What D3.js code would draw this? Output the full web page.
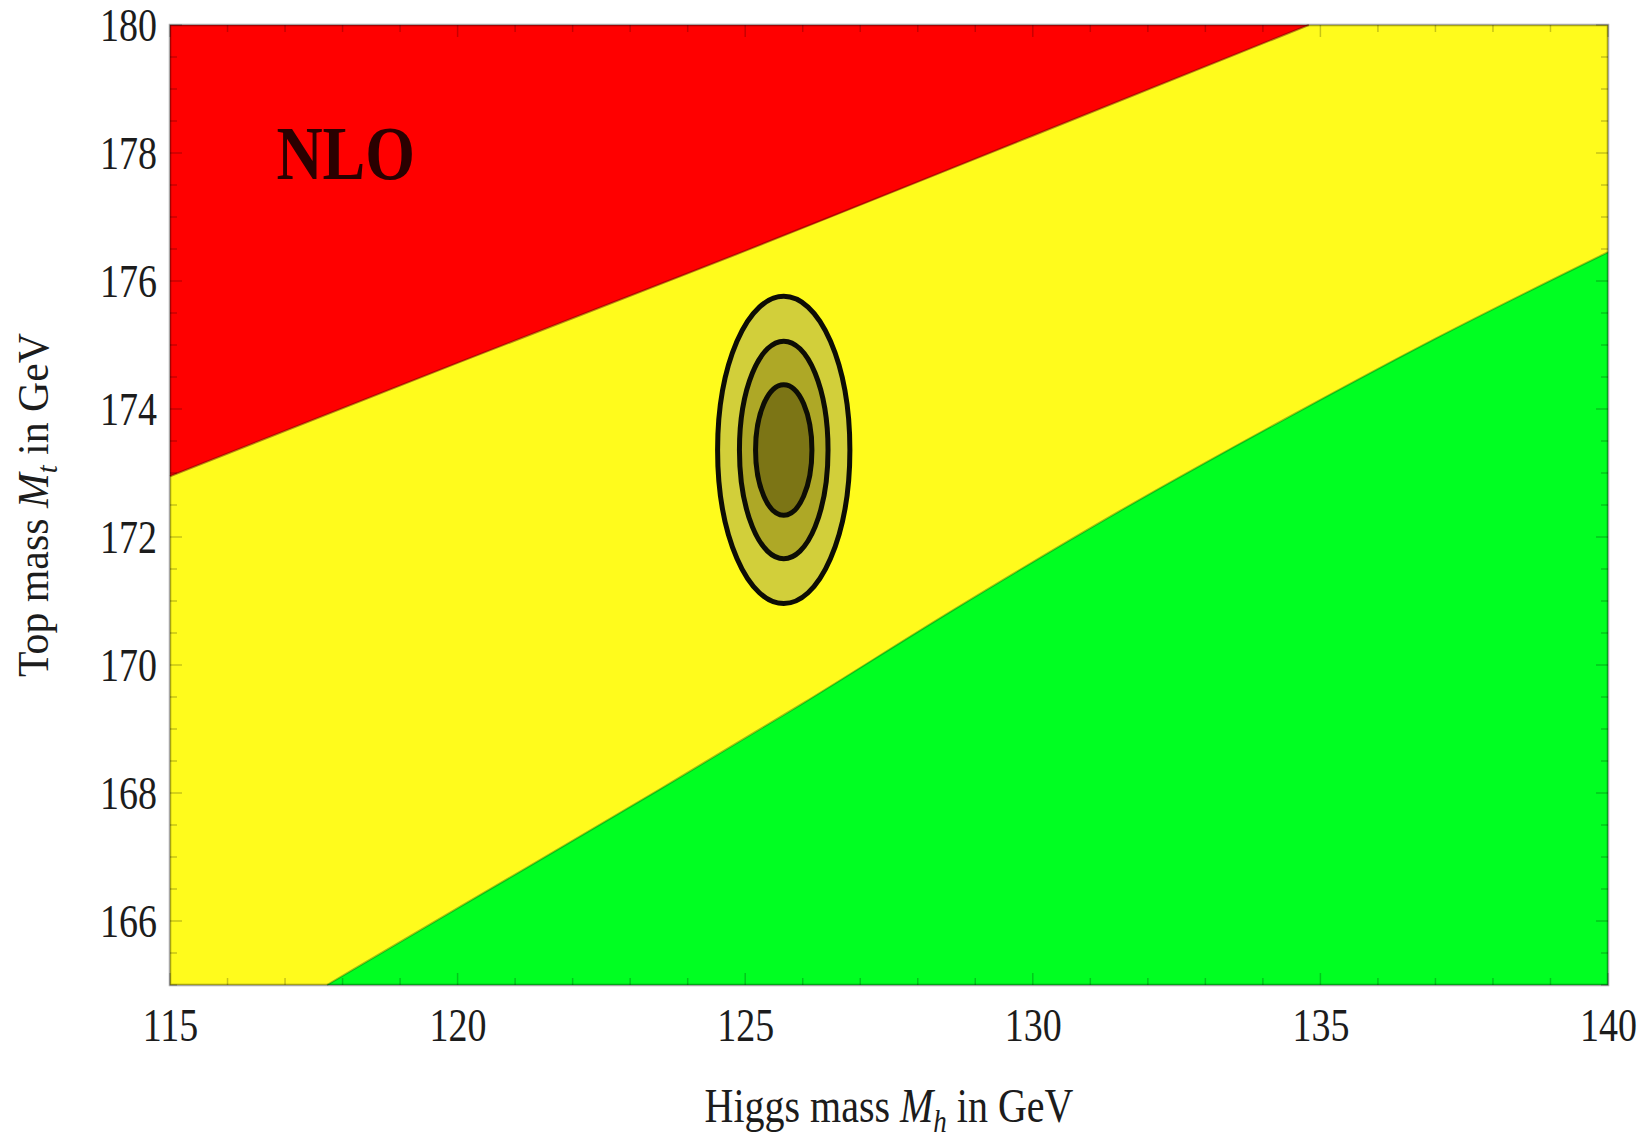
<!DOCTYPE html>
<html>
<head>
<meta charset="utf-8" />
<title>NLO stability plot</title>
<script src="https://cdn.jsdelivr.net/npm/d3@7"></script>
<style type="text/css">
    body { margin: 0; background: #fff; }
    #chart text { font-family: "Liberation Serif", "Times New Roman", serif; fill: #1c1c1c; }
</style>
</head>
<body>
<div id="chart"></div>
<script>
    // Axis ticks
    var xTicks = [115, 120, 125, 130, 135, 140]
    var yTicks = [166, 168, 170, 172, 174, 176, 178, 180]

    // Red / yellow boundary (Higgs mass, top mass)
    var redMh = [115, 120, 125, 130, 134.8]
    var redMt = [172.95, 174.72, 176.47, 178.27, 180]

    // Yellow / green boundary
    var greenMh = [117.73, 120, 123.5, 126, 128.6, 131.5, 134.5, 137, 140]
    var greenMt = [165, 166.2, 168.05, 169.4, 170.85, 172.4, 173.9, 175.1, 176.45]

    // Measured point and its contours (semi-axes in GeV, outer to inner)
    var centreMh = 125.67, centreMt = 173.36
    var contourA = [1.15, 0.77, 0.49]
    var contourB = [2.40, 1.70, 1.02]
    var contourFill = ["#d2cf3a", "#aea826", "#7c7515"]

    var W = 1647, H = 1137
    var margin = { top: 25, right: 39, bottom: 152, left: 170 },
        width = W - margin.left - margin.right,
        height = H - margin.top - margin.bottom

    var x = d3.scaleLinear().domain([115, 140]).range([0, width])
    var y = d3.scaleLinear().domain([165, 180]).range([height, 0])

    var svg = d3.select("#chart").append("svg")
        .attr("width", W).attr("height", H)

    var chart = svg.append("g")
        .attr("transform", "translate(" + margin.left + "," + margin.top + ")")

    // Yellow background
    chart.append("rect")
        .attr("width", width).attr("height", height)
        .attr("fill", "#fffb1c")

    var line = d3.line()
        .x(function(d) { return x(d[0]) })
        .y(function(d) { return y(d[1]) })
        .curve(d3.curveMonotoneX)

    var redPts = redMh.map(function(v, i) { return [v, redMt[i]] })
    var greenPts = greenMh.map(function(v, i) { return [v, greenMt[i]] })

    // closed regions: boundary curve then the plot corner
    chart.append("path")
        .attr("d", line(redPts) + "L" + x(115) + "," + y(180) + "Z")
        .attr("fill", "#ff0000")
    chart.append("path")
        .attr("d", line(greenPts) + "L" + x(140) + "," + y(165) + "Z")
        .attr("fill", "#00ff22")

    // Soft boundary edges
    chart.append("path").attr("d", line(redPts))
        .attr("fill", "none").attr("stroke", "rgba(90,0,0,0.45)").attr("stroke-width", 2)
    chart.append("path").attr("d", line(greenPts))
        .attr("fill", "none").attr("stroke", "rgba(0,80,0,0.35)").attr("stroke-width", 2)

    // Contours
    contourA.forEach(function(a, i) {
        chart.append("ellipse")
            .attr("cx", x(centreMh)).attr("cy", y(centreMt))
            .attr("rx", x(centreMh + a) - x(centreMh))
            .attr("ry", y(centreMt) - y(centreMt + contourB[i]))
            .attr("fill", contourFill[i])
            .attr("stroke", "#0d0d05").attr("stroke-width", 5)
    })

    // Frame ticks (inside, on all four sides)
    var tickColor = "rgba(0,0,0,0.22)"
    var minorX = d3.range(115, 140.01, 1), minorY = d3.range(165, 180.01, 0.5)
    function frameTicks(vals, major, horizontal) {
        vals.forEach(function(v) {
            var isMajor = major.indexOf(v) >= 0
            var len = isMajor ? 12 : 7
            if (horizontal) {
                chart.append("line").attr("x1", x(v)).attr("x2", x(v)).attr("y1", height).attr("y2", height - len)
                    .attr("stroke", tickColor).attr("stroke-width", 1.5)
                chart.append("line").attr("x1", x(v)).attr("x2", x(v)).attr("y1", 0).attr("y2", len)
                    .attr("stroke", tickColor).attr("stroke-width", 1.5)
            } else {
                chart.append("line").attr("y1", y(v)).attr("y2", y(v)).attr("x1", 0).attr("x2", len)
                    .attr("stroke", tickColor).attr("stroke-width", 1.5)
                chart.append("line").attr("y1", y(v)).attr("y2", y(v)).attr("x1", width).attr("x2", width - len)
                    .attr("stroke", tickColor).attr("stroke-width", 1.5)
            }
        })
    }
    frameTicks(minorX, xTicks, true)
    frameTicks(minorY, yTicks, false)

    // Frame
    chart.append("rect")
        .attr("width", width).attr("height", height)
        .attr("fill", "none").attr("stroke", "rgba(0,0,0,0.35)").attr("stroke-width", 2.5)

    // Axes labels
    var xAxis = chart.append("g")
        .attr("transform", "translate(0," + height + ")")
        .call(d3.axisBottom(x).tickValues(xTicks).tickSize(0).tickPadding(0))
    xAxis.select(".domain").remove()
    xAxis.selectAll("text")
        .attr("y", 0).attr("dy", null)
        .attr("font-size", 38)
        .attr("dominant-baseline", "central")
        .attr("transform", "translate(0,40) scale(1,1.22)")

    var yAxis = chart.append("g")
        .call(d3.axisLeft(y).tickValues(yTicks).tickSize(0).tickPadding(0))
    yAxis.select(".domain").remove()
    yAxis.selectAll("text")
        .attr("x", 0).attr("dy", null)
        .attr("font-size", 38)
        .attr("text-anchor", "end")
        .attr("dominant-baseline", "central")
        .attr("transform", "translate(-13,0) scale(1,1.22)")

    // NLO label
    chart.append("text")
        .attr("transform", "translate(" + (x(116.85)) + "," + (y(177.6)) + ") scale(1,1.18)")
        .attr("font-size", 64).attr("font-weight", "bold")
        .style("fill", "#2a0000")
        .text("NLO")

    // Axis titles
    var xt = svg.append("text")
        .attr("text-anchor", "middle")
        .attr("transform", "translate(" + 889 + "," + 1122 + ") scale(1,1.2)")
        .attr("font-size", 40)
    xt.append("tspan").text("Higgs mass ")
    xt.append("tspan").attr("font-style", "italic").text("M")
    xt.append("tspan").attr("font-style", "italic").attr("font-size", 27).attr("dy", 8).text("h")
    xt.append("tspan").attr("dy", -8).text(" in GeV")

    var yt = svg.append("text")
        .attr("text-anchor", "middle")
        .attr("transform", "translate(48," + 505 + ") rotate(-90) scale(1.1,1.15)")
        .attr("font-size", 38)
    yt.append("tspan").text("Top mass ")
    yt.append("tspan").attr("font-style", "italic").text("M")
    yt.append("tspan").attr("font-style", "italic").attr("font-size", 26).attr("dy", 8).text("t")
    yt.append("tspan").attr("dy", -8).text(" in GeV")
</script>
</body>
</html>
